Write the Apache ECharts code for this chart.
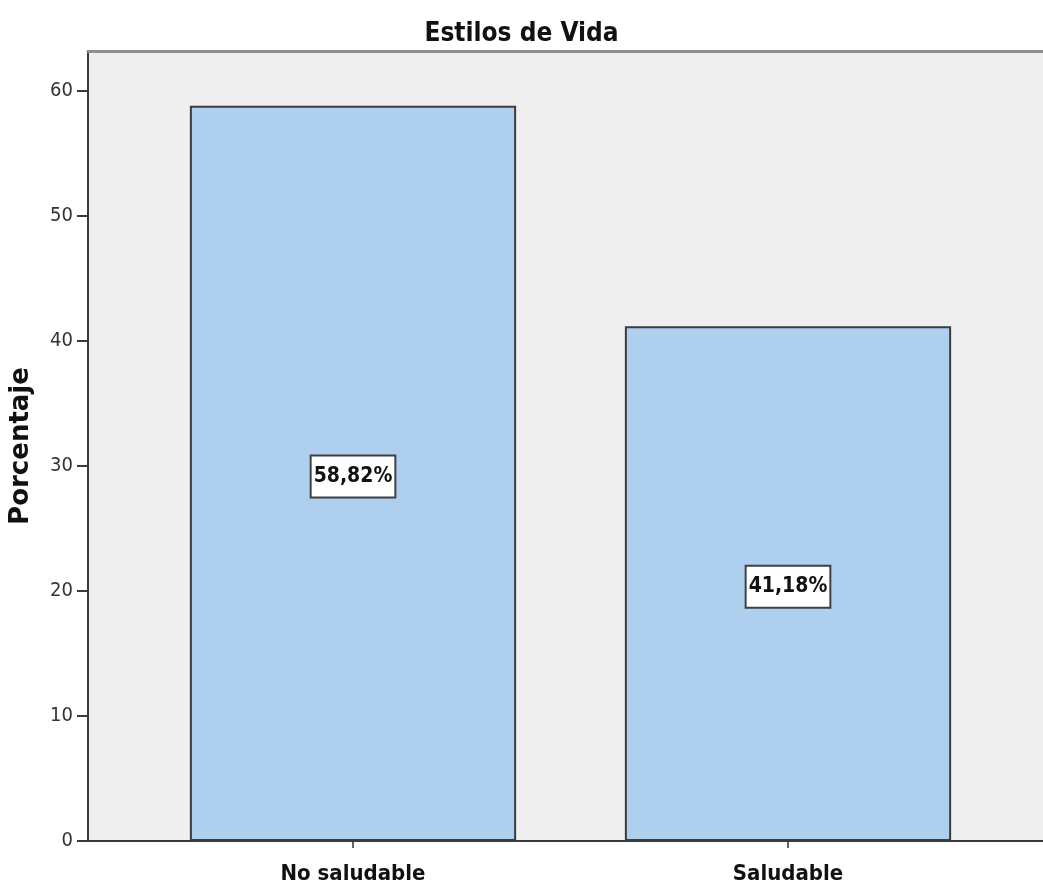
<!DOCTYPE html>
<html>
<head>
<meta charset="utf-8">
<title>Estilos de Vida</title>
<script src="https://cdn.jsdelivr.net/npm/echarts@6/dist/echarts.min.js"></script>
<style>
  html, body { margin: 0; padding: 0; background: #ffffff; }
  #chart { width: 1043px; height: 887px; }
</style>
</head>
<body>
<div id="chart"></div>
<script>
// Percentage of respondents by lifestyle category
const categories = ['No saludable', 'Saludable'];
const percentages = [58.82, 41.18];
const yTickValues = [0, 10, 20, 30, 40, 50, 60];

const FONT = '"Liberation Sans Narrow", "Arial Narrow", "DejaVu Sans Condensed", sans-serif';
const NAME_FONT = '"DejaVu Sans", sans-serif';
const Y_MAX = 63.2;

const chart = echarts.init(document.getElementById('chart'), null, { renderer: 'canvas' });

chart.setOption({
  animation: false,
  backgroundColor: '#ffffff',
  title: {
    text: 'Estilos de Vida',
    left: 'center',
    top: 16,
    textStyle: { fontFamily: FONT, fontSize: 26, fontWeight: 'bold', color: '#111111' }
  },
  grid: [
    // plot frame: grey panel, y axis, baseline and top rule
    { left: 87, right: -20, top: 51, bottom: 46, show: true, backgroundColor: '#efefef', borderWidth: 0, containLabel: false },
    // bar placement
    { left: 135.5, right: 37.5, top: 51, bottom: 46, containLabel: false }
  ],
  xAxis: [
    {
      gridIndex: 0, type: 'value', min: 0, max: 1, position: 'bottom',
      axisLine: { show: true, lineStyle: { color: '#3a3a3a', width: 2 } },
      axisTick: { show: false }, axisLabel: { show: false }, splitLine: { show: false }
    },
    {
      gridIndex: 0, type: 'value', min: 0, max: 1, position: 'top',
      axisLine: { show: true, lineStyle: { color: '#8f8f8f', width: 3 } },
      axisTick: { show: false }, axisLabel: { show: false }, splitLine: { show: false }
    },
    {
      gridIndex: 1, type: 'category', data: categories,
      axisLine: { show: false },
      axisTick: { show: true, alignWithLabel: true, length: 7, lineStyle: { color: '#333333', width: 1.5 } },
      axisLabel: { margin: 22, fontFamily: FONT, fontSize: 22, fontWeight: 'bold', color: '#111111' }
    }
  ],
  yAxis: [
    {
      gridIndex: 0, type: 'value', min: 0, max: Y_MAX,
      name: 'Porcentaje', nameLocation: 'middle', nameGap: 54,
      nameTextStyle: { fontFamily: NAME_FONT, fontSize: 26, fontWeight: 'bold', color: '#111111' },
      axisLine: { show: true, lineStyle: { color: '#3a3a3a', width: 2 } },
      axisTick: { show: true, length: 11, customValues: yTickValues, lineStyle: { color: '#3a3a3a', width: 2 } },
      axisLabel: { margin: 15, customValues: yTickValues, fontFamily: FONT, fontSize: 20, color: '#333333' },
      splitLine: { show: false }
    },
    {
      gridIndex: 1, type: 'value', min: 0, max: Y_MAX, show: false
    }
  ],
  series: [
    {
      type: 'bar',
      xAxisIndex: 2,
      yAxisIndex: 1,
      data: percentages,
      barWidth: '75%',
      itemStyle: { color: '#aecfee', borderColor: '#3c3c3c', borderWidth: 2 },
      label: {
        show: true,
        position: 'inside',
        offset: [0, 3],
        formatter: p => p.value.toFixed(2).replace('.', ',') + '%',
        fontFamily: FONT, fontSize: 21, fontWeight: 'bold', color: '#111111',
        lineHeight: 22,
        backgroundColor: '#ffffff', borderColor: '#404040', borderWidth: 2,
        padding: [10, 2, 8, 2]
      }
    }
  ]
});
</script>
</body>
</html>
